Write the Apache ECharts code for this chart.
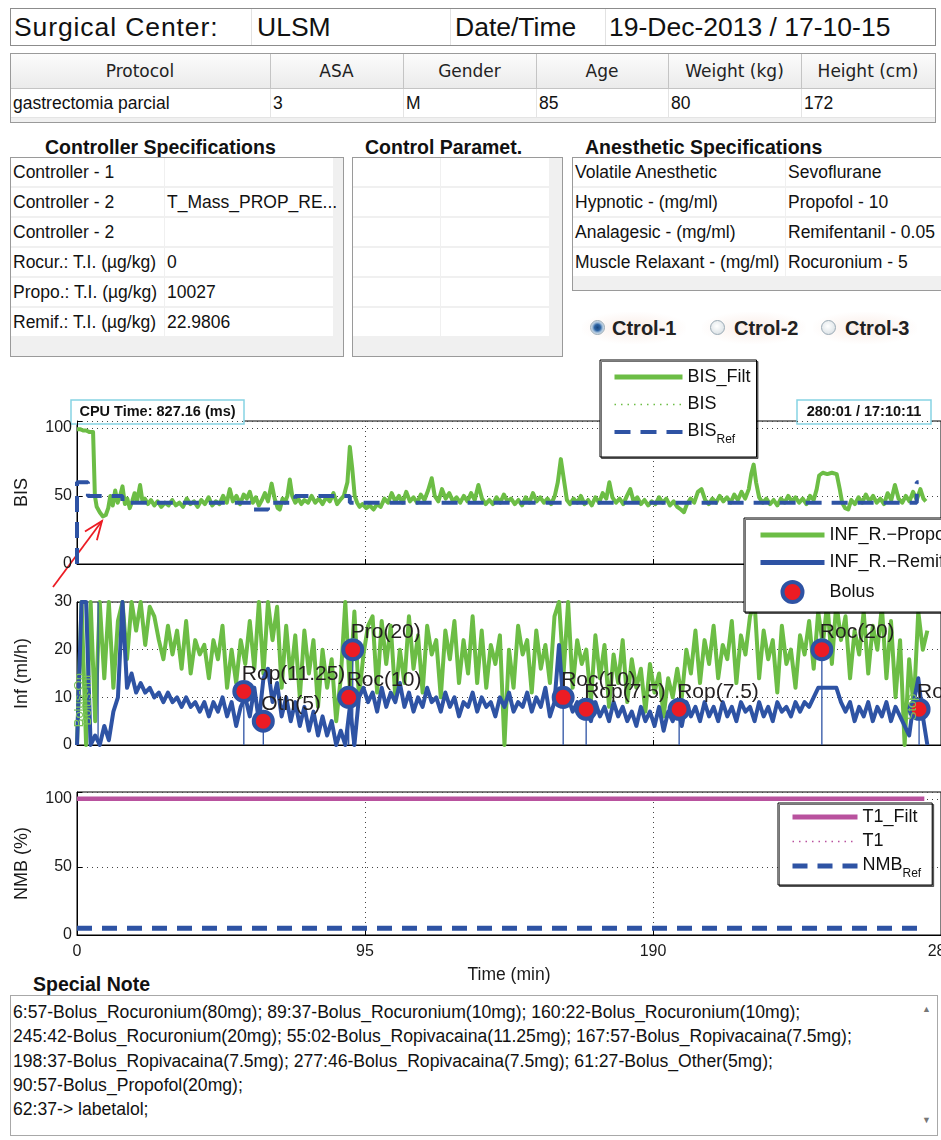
<!DOCTYPE html>
<html><head><meta charset="utf-8">
<script src="https://cdn.jsdelivr.net/npm/echarts@6/dist/echarts.min.js"></script>
<style>
html,body{margin:0;padding:0;background:#fff;}
body{width:941px;height:1140px;position:relative;overflow:hidden;font-family:"Liberation Sans",Arial,sans-serif;color:#111;}
.a{position:absolute;white-space:nowrap;}
.box{position:absolute;box-sizing:border-box;border:1px solid #a0a0a0;}
.vl{position:absolute;width:1px;}
.ttl{position:absolute;white-space:nowrap;font-weight:bold;font-size:19.5px;line-height:22px;color:#111;}
.rb{position:absolute;width:15px;height:15px;border-radius:50%;box-sizing:border-box;border:1px solid #9aaab5;background:radial-gradient(circle at 45% 40%,#ffffff 0,#e4e9ec 60%,#c9d2d8 100%);}
.rb.on{background:radial-gradient(circle at 50% 50%,#16457f 0,#2c63a3 3px,#9cb9d6 5px,#e3ebf2 7px);}
.rt{position:absolute;white-space:nowrap;font-weight:bold;font-size:20px;line-height:24px;color:#222;}
#chart{position:absolute;left:0;top:0;width:941px;height:1140px;z-index:5;pointer-events:none;}
</style>
</head>
<body>
<div id="page"></div>
<div id="chart"></div>
<script>
// ---------------- text content of the panels ----------------
const headerTexts = ['Surgical Center:', 'ULSM', 'Date/Time', '19-Dec-2013 / 17-10-15'];
const patientCols = ['Protocol', 'ASA', 'Gender', 'Age', 'Weight (kg)', 'Height (cm)'];
const patientVals = ['gastrectomia parcial', '3', 'M', '85', '80', '172'];
const ctrlLabels = ['Controller - 1', 'Controller - 2', 'Controller - 2', 'Rocur.: T.I. (\u00b5g/kg)', 'Propo.: T.I. (\u00b5g/kg)', 'Remif.: T.I. (\u00b5g/kg)'];
const ctrlValues = ['', 'T_Mass_PROP_RE...', '', '0', '10027', '22.9806'];
const anesLabels = ['Volatile Anesthetic', 'Hypnotic - (mg/ml)', 'Analagesic - (mg/ml)', 'Muscle Relaxant - (mg/ml)'];
const anesValues = ['Sevoflurane', 'Propofol - 10', 'Remifentanil - 0.05', 'Rocuronium - 5'];
const ctrlOptions = ['Ctrol-1', 'Ctrol-2', 'Ctrol-3'];
const noteLines = [
 '6:57-Bolus_Rocuronium(80mg); 89:37-Bolus_Rocuronium(10mg); 160:22-Bolus_Rocuronium(10mg);',
 '245:42-Bolus_Rocuronium(20mg); 55:02-Bolus_Ropivacaina(11.25mg); 167:57-Bolus_Ropivacaina(7.5mg);',
 '198:37-Bolus_Ropivacaina(7.5mg); 277:46-Bolus_Ropivacaina(7.5mg); 61:27-Bolus_Other(5mg);',
 '90:57-Bolus_Propofol(20mg);',
 '62:37-> labetalol;'
];
const cpuText = 'CPU Time: 827.16 (ms)';
const clockText = '280:01 / 17:10:11';

// ---------------- chart data ----------------
const timeTicks = [0, 95, 190, 285];
const bisFilt = [
[0,99],[1,99],[2,98],[3,98],[4,97],[5.3,97],[5.9,50],[6.5,42],[7.5,38],[8.5,35],[9.5,36],[10.3,41],[11,50],[11.8,43],[12.6,54],[13.4,45],[14.2,50],[15,57],[15.8,44],[16.6,48],[17.4,41],[18.2,46],[19,52],[19.8,46],[20.8,58],[21.6,46],[22.4,48],[23.4,44],[24.4,47],[25.5,43],[26.6,46],[27.8,42],[29,45],[30.2,43],[31.4,47],[32.6,43],[33.8,45],[35,42],[36.2,48],[37.4,44],[38.6,46],[39.8,42],[41,47],[42.2,44],[43.4,49],[44.6,43],[45.8,46],[47,44],[48.2,50],[49.4,45],[50.4,55],[51.4,46],[52.6,50],[53.8,44],[55,51],[56,48],[57,53],[58,45],[59,49],[60,43],[61,47],[62,52],[63,46],[64.2,59],[65.2,48],[66.2,41],[66.9,40],[67.8,48],[68.6,45],[69.4,50],[70.2,62],[71,50],[72,45],[73,48],[74,44],[75,47],[76.2,45],[77.4,50],[78.6,45],[79.8,48],[81,44],[82.2,49],[83.4,46],[84.6,52],[85.8,44],[86.8,47],[88,50],[89.2,60],[90,86],[90.8,70],[91.6,50],[92.4,45],[93.2,42],[94.2,44],[95.4,41],[96.6,43],[97.8,40],[99,44],[100.2,42],[101.4,48],[102.6,45],[103.8,52],[105,46],[106.2,50],[107.4,45],[108.6,53],[109.8,46],[111,49],[112.2,45],[113.4,51],[114.6,47],[115.8,54],[117,63],[118,50],[119.2,46],[120.4,55],[121.6,48],[122.8,52],[124,46],[125.2,49],[126.4,45],[127.6,50],[128.8,46],[130,52],[131.2,47],[132.4,58],[133.6,48],[134.8,44],[136,47],[137.2,44],[138.4,49],[139.6,45],[140.8,51],[142,46],[143.2,48],[144.4,44],[145.6,47],[146.8,43],[148,49],[149.2,45],[150.4,52],[151.6,46],[152.8,49],[154,45],[155.2,48],[156.4,44],[157.6,50],[158.6,60],[159.6,77],[160.6,62],[161.6,47],[162.6,44],[163.8,48],[165,45],[166.2,50],[167.4,44],[168.6,47],[169.8,43],[171,49],[172.2,45],[173.4,52],[174.6,48],[175.6,60],[176.6,49],[177.8,45],[179,48],[180.2,44],[181.4,50],[182.5,55],[183.6,46],[184.8,49],[186,44],[187.2,47],[188.4,43],[189.6,46],[190.8,44],[192,49],[193.2,45],[194.4,48],[195.6,43],[196.8,46],[198,42],[199.2,40],[200.2,38],[201.2,44],[202.4,48],[203.6,45],[204.8,53],[206,55],[207.2,47],[208.4,44],[209.6,48],[210.8,45],[212,50],[213.2,46],[214.4,49],[215.6,45],[216.8,51],[218,47],[219.2,53],[220.4,48],[221.6,55],[222.4,66],[223.2,73],[224,60],[225,49],[226.2,45],[227.4,48],[228.6,44],[229.8,47],[231,43],[232.2,48],[233.4,45],[234.6,50],[235.8,46],[237,49],[238.2,45],[239.4,48],[240.6,44],[241.8,50],[243,47],[244,55],[244.8,65],[246,67],[247.5,66],[249,67],[250.6,66],[251.6,55],[252.4,45],[253.4,41],[254.4,40],[255.4,47],[256.6,44],[257.8,49],[259,45],[260.2,51],[261.4,46],[262.6,50],[263.8,45],[265,48],[266.2,44],[267.4,52],[268.6,47],[269.8,58],[271,48],[272.2,45],[273.4,50],[274.6,46],[275.8,53],[277,47],[278.2,55],[279.2,48],[280,46]
];
const bisRef = [[0,0],[0,60],[3.6,60],[3.6,50],[15,50],[15,45],[57.5,45],[57.5,40],[63,40],[63,45],[72,45],[72,50],[90,50],[90,45],[277,45],[277,60],[277.6,60]];
const infStep = 1.5; // sampling interval of the infusion records (min)
const propoRate = [
0,30,0,30,5,30,14,30,12,26,
30,18,30,24,30,21,29,27,22,18,
25,19,24,16,26,15,22,19,21,14,
22,18,25,12,20,13,22,17,26,16,
30,15,30,22,29,12,25,14,23,10,
24,15,22,8,20,12,18,5,14,30,
12,28,10,19,25,27,11,26,17,25,
10,20,13,27,16,23,11,25,19,22,
10,24,18,26,13,22,15,27,13,24,
12,21,17,23,0,20,12,25,19,22,
11,24,16,21,13,27,30,15,30,12,
22,17,20,9,23,14,21,8,19,13,
22,9,18,12,16,7,17,11,15,6,
14,10,16,10,20,15,24,13,22,17,
25,14,21,18,26,13,23,19,27,30,
14,24,18,22,11,25,17,20,12,23,
19,26,16,28,21,30,17,30,22,27,
14,24,19,28,15,25,20,29,14,26,
10,22,0,18,8,28,20,24
];
const remifRate = [
0,30,30,0,2,0,4,1,7,10,
30,12,15,11,13,11,12,10,11,9,
11,9,10,8,10,8,9,7,9,6,
9,7,10,6,9,4,8,10,6,12,
5,14,16,9,13,6,10,5,9,4,
8,3,7,2,6,2,5,0,3,0,
8,0,10,12,9,11,7,12,8,11,
9,13,8,11,7,10,8,12,9,10,
7,11,8,10,6,9,8,11,7,10,
8,9,6,10,8,11,7,9,8,11,
7,10,8,12,6,9,21,8,10,7,
9,6,8,5,9,6,8,5,9,6,
8,5,7,4,8,5,7,4,8,3,
7,5,8,4,9,6,8,5,9,6,
8,5,9,6,8,5,9,7,8,5,
9,6,8,5,9,7,8,6,9,7,
9,8,10,12,12,12,12,12,9,7,
9,5,8,6,9,5,8,6,9,5,
8,6,4,2,9,14,6,0
];
const bolusTime = [6.95, 55.03, 61.45, 89.62, 90.95, 160.37, 167.95, 198.62, 245.7, 277.77];
const bolusDose = [80, 11.25, 5, 10, 20, 10, 7.5, 7.5, 20, 7.5];
const bolusLabel = ['Roc(80)', 'Rop(11.25)', 'Oth(5)', 'Roc(10)', 'Pro(20)', 'Roc(10)', 'Rop(7.5)', 'Rop(7.5)', 'Roc(20)', 'Rop(7.5)'];
const infNotes = [[0.7, 9.4, 'Bolus-On'], [3.5, 9.4, 'Bolus-Ini'], [275.7, 8, 'Stop']];
const t1Filt = [[0,100],[279.5,100]];
const nmbRef = [[0,5],[279,5]];

// ---------------- HTML panels ----------------
const page = document.getElementById('page');
function el(cls, css, text){ const d=document.createElement('div'); d.className=cls; d.style.cssText=css; if(text!==undefined) d.textContent=text; page.appendChild(d); return d; }

// header strip
el('box','left:10px;top:8px;width:926px;height:38px;border-color:#8c8c8c;background:#fff;');
[251,450,605].forEach(x=>el('vl',`left:${x}px;top:9px;height:36px;background:#e2e2e2;`));
const hx=[14,257,455,609];
headerTexts.forEach((t,i)=>el('a',`left:${hx[i]}px;top:8px;line-height:38px;font-size:26.5px;color:#111;`+(i===0?'letter-spacing:0.9px;':''),t));

// patient table
const colX=[10,270,403,536,668,801,935];
el('box','left:10px;top:53px;width:926px;height:70px;border-color:#9a9a9a;background:#f0f0f0;');
el('a','left:11px;top:54px;width:924px;height:34px;background:linear-gradient(#fcfcfc,#ebebeb);border-bottom:1px solid #c4c4c4;');
el('a','left:11px;top:89px;width:924px;height:28px;background:#fff;border-bottom:1px solid #e4e4e4;');
colX.slice(1,6).forEach(x=>{el('vl',`left:${x}px;top:54px;height:34px;background:#c4c4c4;`);el('vl',`left:${x}px;top:89px;height:28px;background:#e4e4e4;`);});
patientCols.forEach((t,i)=>el('a',`left:${colX[i]}px;width:${colX[i+1]-colX[i]}px;text-align:center;top:54px;line-height:34px;font-family:'DejaVu Sans',sans-serif;font-size:17px;color:#222;`,t));
patientVals.forEach((t,i)=>el('a',`left:${colX[i]+3}px;top:89px;line-height:28px;font-size:17.5px;color:#111;`,t));

// section titles
el('ttl','left:45px;top:136px;','Controller Specifications');
el('ttl','left:365px;top:136px;','Control Paramet.');
el('ttl','left:585px;top:136px;','Anesthetic Specifications');

function gridTable(x,y,w,h,split,cellRight,nrows,labels,values){
  el('box',`left:${x}px;top:${y}px;width:${w}px;height:${h}px;border-color:#9a9a9a;background:#f0f0f0;`);
  for(let r=0;r<nrows;r++){
    const top=y+1+r*30;
    el('a',`left:${x+1}px;top:${top}px;width:${split-x-2}px;height:28px;background:#fff;`);
    el('a',`left:${split}px;top:${top}px;width:${cellRight-split}px;height:28px;background:#fff;`);
    if(labels) el('a',`left:${x+3}px;top:${top}px;line-height:28px;font-size:17.5px;color:#111;`,labels[r]);
    if(values && values[r]) el('a',`left:${split+2}px;top:${top}px;line-height:28px;font-size:17.5px;color:#111;`,values[r]);
  }
}
gridTable(10,157,334,200,165,333,6,ctrlLabels,ctrlValues);
gridTable(352,157,211,200,441,549,6,null,null);
gridTable(572,157,380,134,786,941,4,anesLabels,anesValues);

// radio buttons
const rbX=[590,710,821], rtX=[612,734,845];
ctrlOptions.forEach((t,i)=>{
  el('a',`left:${rbX[i]-8}px;top:312px;width:104px;height:32px;background:radial-gradient(ellipse at 50% 50%,rgba(246,222,212,0.55),rgba(255,255,255,0) 75%);`);
  el('rb'+(i===0?' on':''),`left:${rbX[i]}px;top:320px;`);
  el('rt',`left:${rtX[i]}px;top:316px;`,t);
});

// special note
el('ttl','left:33px;top:973px;','Special Note');
el('box','left:10px;top:995px;width:928px;height:141px;border-color:#a8a8a8;background:#fff;');
noteLines.forEach((t,i)=>el('a',`left:13px;top:${1000+i*24.3}px;line-height:24px;font-size:17.6px;color:#111;`,t));
el('a','left:922px;top:1004px;font-size:9px;color:#777;','\u25b2');
el('a','left:922px;top:1115px;font-size:9px;color:#777;','\u25bc');

// ---------------- ECharts figure ----------------
const F='"Liberation Sans", Arial, sans-serif';
const GREEN='#6cbd45', BLUE='#2e53a4', MAG='#b9529e', RED='#ec1c24';
const chart=echarts.init(document.getElementById('chart'),null,{renderer:'canvas',width:941,height:1140});

function xAx(i,showLabel){
  return {type:'value',gridIndex:i,min:timeTicks[0],max:timeTicks[timeTicks.length-1],interval:timeTicks[1]-timeTicks[0],
    axisLine:{show:true,onZero:false,lineStyle:{color:'#000',width:1}},
    axisTick:{show:true,inside:true,length:5,lineStyle:{color:'#000'}},
    axisLabel:{show:showLabel,fontSize:16,color:'#1a1a1a',fontFamily:F,margin:9,alignMinLabel:'center',alignMaxLabel:'center',hideOverlap:false},
    splitLine:{show:true,lineStyle:{color:'#444',type:[1,4],width:1}},
    name:showLabel?'Time (min)':'',nameLocation:'middle',nameGap:31,
    nameTextStyle:{fontSize:17.5,color:'#1a1a1a',fontFamily:F}};
}
function yAx(i,max,interval,name,gap){
  return {type:'value',gridIndex:i,min:0,max:max,interval:interval,
    axisLine:{show:true,lineStyle:{color:'#000',width:1}},
    axisTick:{show:true,inside:true,length:5,lineStyle:{color:'#000'}},
    axisLabel:{fontSize:16,color:'#1a1a1a',fontFamily:F,margin:5,formatter:v=>(v%interval===0?String(v):'')},
    splitLine:{show:true,lineStyle:{color:'#444',type:[1,4],width:1}},
    name:name,nameLocation:'middle',nameGap:gap,
    nameTextStyle:{fontSize:18,color:'#1a1a1a',fontFamily:F}};
}
const gridBase={show:true,borderColor:'#000',borderWidth:1,backgroundColor:'transparent',left:77,width:864,height:143,containLabel:false,outerBoundsMode:'none'};
const legendBase={orient:'vertical',backgroundColor:'#fff',borderColor:'#000',borderWidth:1,selectedMode:false,
  shadowColor:'rgba(0,0,0,0.55)',shadowOffsetX:1.5,shadowOffsetY:1.5,shadowBlur:0,
  itemHeight:20,
  textStyle:{fontSize:18,fontFamily:F,color:'#111',lineHeight:20,
    rich:{m:{fontSize:18,fontFamily:F,color:'#111',lineHeight:20,verticalAlign:'top'},
          sub:{fontSize:12,fontFamily:F,color:'#111',lineHeight:12,padding:[12,0,0,0],verticalAlign:'top'}}},
  formatter:n=>n.endsWith('_Ref')?'{m|'+n.replace('_Ref','')+'}{sub|Ref}':n};
const noSym={opacity:0};

// arrow geometry (annotation)
const tail=[53,587], tip=[102,521];
const ang=Math.atan2(tip[1]-tail[1],tip[0]-tail[0]);
const head=a=>[tip[0]-20*Math.cos(ang+a),tip[1]-20*Math.sin(ang+a)];

chart.setOption({
  animation:false,
  grid:[Object.assign({top:421},gridBase),Object.assign({top:602},gridBase),Object.assign({top:792},gridBase)],
  xAxis:[xAx(0,false),xAx(1,false),xAx(2,true)],
  yAxis:[yAx(0,105,50,'BIS',46),yAx(1,30,10,'Inf (ml/h)',46),yAx(2,105,50,'NMB (%)',46)],
  legend:[
    Object.assign({},legendBase,{left:600,top:360,padding:[7,6,11,12],itemWidth:68,itemGap:7.5,
      data:[{name:'BIS_Filt',lineStyle:{width:5},itemStyle:noSym},{name:'BIS',lineStyle:{width:1.5},itemStyle:noSym},{name:'BIS_Ref',lineStyle:{width:4},itemStyle:noSym}]}),
    Object.assign({},legendBase,{left:744,top:518,padding:[7,10,8,14],itemWidth:64,itemGap:7.5,
      data:[{name:'INF_R.\u2212Propo',lineStyle:{width:5},itemStyle:noSym},{name:'INF_R.\u2212Remif',lineStyle:{width:5},itemStyle:noSym},
            {name:'Bolus',icon:'circle',itemStyle:{color:RED,borderColor:BLUE,borderWidth:4,opacity:1}}]}),
    Object.assign({},legendBase,{left:778,top:803,padding:[4,11,5,12],itemWidth:65,itemGap:4.5,
      data:[{name:'T1_Filt',lineStyle:{width:5},itemStyle:noSym},{name:'T1',lineStyle:{width:1.5},itemStyle:noSym},{name:'NMB_Ref',lineStyle:{width:5},itemStyle:noSym}]})
  ],
  series:[
    {name:'BIS',type:'line',xAxisIndex:0,yAxisIndex:0,data:bisFilt,symbol:'none',color:GREEN,lineStyle:{color:GREEN,width:1,type:[1.5,5]},z:2},
    {name:'BIS_Filt',type:'line',xAxisIndex:0,yAxisIndex:0,data:bisFilt,symbol:'none',color:GREEN,lineStyle:{color:GREEN,width:4,join:'round'},z:3},
    {name:'BIS_Ref',type:'line',xAxisIndex:0,yAxisIndex:0,data:bisRef,symbol:'none',color:BLUE,lineStyle:{color:BLUE,width:4,type:[16,10]},z:4},
    {name:'INF_R.\u2212Propo',type:'line',xAxisIndex:1,yAxisIndex:1,data:propoRate.map((v,i)=>[i*infStep,v]),symbol:'none',color:GREEN,lineStyle:{color:GREEN,width:4,join:'round'},z:2},
    {name:'INF_R.\u2212Remif',type:'line',xAxisIndex:1,yAxisIndex:1,data:remifRate.map((v,i)=>[i*infStep,v]),symbol:'none',color:BLUE,lineStyle:{color:BLUE,width:4,join:'round'},z:3},
    {name:'BolusStem',type:'bar',xAxisIndex:1,yAxisIndex:1,data:bolusTime.map((t,i)=>[t,bolusDose[i]]),barWidth:1.3,itemStyle:{color:BLUE},z:4,clip:true,silent:true},
    {name:'Bolus',type:'scatter',xAxisIndex:1,yAxisIndex:1,data:bolusTime.map((t,i)=>[t,bolusDose[i],bolusLabel[i]]),
      symbol:'circle',symbolSize:19,clip:true,itemStyle:{color:RED,borderColor:BLUE,borderWidth:4,opacity:1},z:5,
      label:{show:true,formatter:p=>p.value[2],position:[9.5,-16],fontSize:21,fontFamily:F,color:'#231f20',opacity:1}},
    {name:'Notes',type:'scatter',xAxisIndex:1,yAxisIndex:1,data:infNotes,symbolSize:1,itemStyle:{opacity:0},silent:true,z:6,
      label:{show:true,formatter:p=>p.value[2],position:'inside',rotate:90,fontSize:13,fontFamily:F,color:'#7cc35a',opacity:1}},
    {name:'T1',type:'line',xAxisIndex:2,yAxisIndex:2,data:t1Filt,symbol:'none',color:MAG,lineStyle:{color:MAG,width:1,type:[1.5,5]},z:2},
    {name:'T1_Filt',type:'line',xAxisIndex:2,yAxisIndex:2,data:t1Filt,symbol:'none',color:MAG,lineStyle:{color:MAG,width:4.5},z:3},
    {name:'NMB_Ref',type:'line',xAxisIndex:2,yAxisIndex:2,data:nmbRef,symbol:'none',color:BLUE,lineStyle:{color:BLUE,width:5,type:[15,10]},z:4}
  ],
  graphic:[
    {type:'group',z:100,children:[
      {type:'rect',shape:{x:71,y:400,width:173,height:24},style:{fill:'#fff',stroke:'#86d3e3',lineWidth:1.5}},
      {type:'text',x:157.5,y:412,style:{text:cpuText,font:'bold 14.5px '+F,fill:'#111',align:'center',verticalAlign:'middle'}},
      {type:'rect',shape:{x:797,y:400,width:134,height:24},style:{fill:'#fff',stroke:'#86d3e3',lineWidth:1.5}},
      {type:'text',x:864,y:412,style:{text:clockText,font:'bold 14.5px '+F,fill:'#111',align:'center',verticalAlign:'middle'}},
      {type:'polyline',shape:{points:[tail,tip]},style:{stroke:RED,lineWidth:1.8,fill:null}},
      {type:'polyline',shape:{points:[head(0.38),tip,head(-0.38)]},style:{stroke:RED,lineWidth:1.8,fill:null}}
    ]}
  ]
});
</script>
</body></html>
